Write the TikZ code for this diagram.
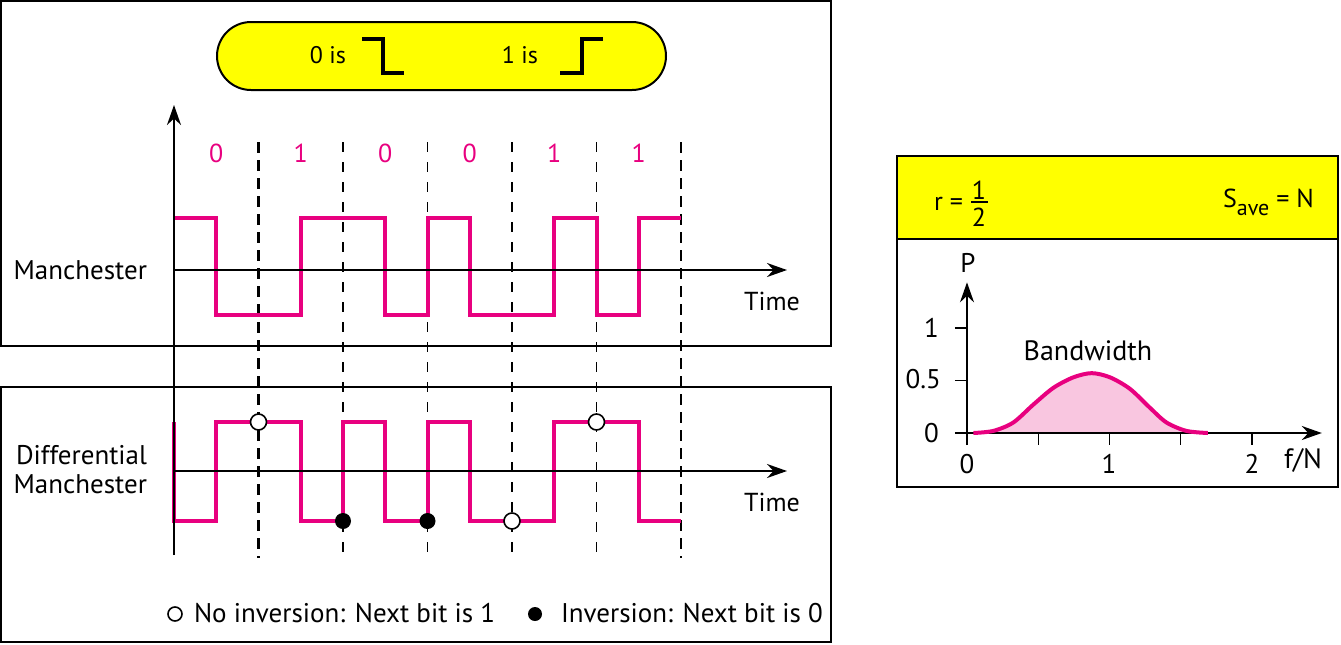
\documentclass[tikz,border=0pt]{standalone}
\usepackage{fontspec}
\setmainfont{PT Sans}
\usetikzlibrary{arrows.meta,positioning,calc}
\definecolor{senalc}{HTML}{E8007F}
\definecolor{amarillo}{HTML}{FFFF00}
\definecolor{rosa}{HTML}{F9C6E0}

\begin{document}
\begin{tikzpicture}[
  x=0.5pt, y=-0.5pt,
  caja/.style={draw, line width=1pt},
  senal/.style={draw=senalc, line width=2pt},
  eje/.style={-{Stealth[length=10pt, width=7pt]}, line width=1pt},
  reloj/.style={dash pattern=on 5pt off 5pt, line width=0.8pt},
  relojg/.style={dash pattern=on 5.5pt off 3.5pt, line width=1.4pt},
  bit/.style={text=senalc, font=\fontsize{13}{15}\selectfont, anchor=base},
  etiq/.style={font=\fontsize{13.5}{16}\selectfont},
  blanco/.style={circle, draw, fill=white, line width=0.8pt, inner sep=0pt, minimum size=8pt},
  negro/.style={circle, fill=black, inner sep=0pt, minimum size=8pt}
]
\useasboundingbox (0,0) rectangle (1341,644);
\def\bw{84.5}

% marcos
\draw[caja] (1,1) rectangle (831,346);
\draw[caja] (1,387) rectangle (831,642);
\fill[amarillo] (897,156) rectangle (1338,239);
\draw[caja] (897,156) rectangle (1338,487);
\draw[caja] (897,239) -- (1338,239);

% leyenda de arriba
\draw[caja, fill=amarillo, rounded corners=17pt] (217,22) rectangle (666,90);
\node[anchor=base, font=\fontsize{12}{14}\selectfont] (cero) at (328,63) {0 is};
\node[anchor=base, font=\fontsize{12}{14}\selectfont] (uno) at (520,63) {1 is};
\draw[line width=2pt] (362,39) -| (383,73) -- (404,73);
\draw[line width=2pt] (560,73) -| (582,39) -- (603,39);

% lineas de reloj
\foreach \i in {2,...,5}
  \draw[reloj] ({174+\bw*\i},142) -- ({174+\bw*\i},558);
\foreach \i in {1,6}
  \draw[relojg] ({174+\bw*\i},142) -- ({174+\bw*\i},558);

% bits
\foreach \b [count=\i] in {0,1,0,0,1,1}
  \node[bit] (b\i) at ({174+\bw*(\i-0.5)},162) {\b};

% Manchester
\draw[senal] (174,218) -- (216,218) -- (216,315) -- (300.5,315) -- (300.5,218)
  -- (385,218) -- (385,315) -- (427.5,315) -- (427.5,218) -- (470,218) -- (470,315)
  -- (554,315) -- (554,218) -- (596.5,218) -- (596.5,315) -- (638.5,315)
  -- (638.5,218) -- (681,218);

% Manchester diferencial
\draw[senal] (174,422) -- (174,521) -- (216,521) -- (216,422) -- (300.5,422)
  -- (300.5,521) -- (343,521) -- (343,422) -- (385,422) -- (385,521) -- (427.5,521)
  -- (427.5,422) -- (470,422) -- (470,521) -- (554,521) -- (554,422) -- (638.5,422)
  -- (638.5,521) -- (681,521);

% ejes
\draw[eje] (174,555) -- (174,105);
\draw[eje] (174,270) -- (787,270);
\draw[eje] (174,471) -- (787,471);
\node[anchor=base, font=\fontsize{13}{15}\selectfont] (t1) at (772,310) {Time};
\node[anchor=base, font=\fontsize{13}{15}\selectfont] (t2) at (772,511) {Time};
\node[etiq, anchor=base east] (man) at (154,279) {Manchester};
\node[etiq, anchor=base east] (dif) at (154,464) {Differential};
\node[etiq, anchor=base east] (dif2) at (154,493) {Manchester};

% marcas de inversion
\node[blanco] (n1) at (258.5,422) {};
\node[negro]  (i1) at (343,521) {};
\node[negro]  (i2) at (427.5,521) {};
\node[blanco] (n2) at (512,521) {};
\node[blanco] (n3) at (596.5,422) {};

% leyenda de abajo
\node[blanco, minimum size=7pt] (ley1) at (175,614) {};
\node[etiq, anchor=base west] (tley1) at (187,622) {No inversion: Next bit is 1};
\node[negro, minimum size=7pt] (ley2) at (535,614) {};
\node[etiq, anchor=base west] (tley2) at (554,622) {Inversion: Next bit is 0};

% cabecera del espectro
\node[anchor=base west, font=\fontsize{13}{15}\selectfont] (r) at (927,210) {r =};
\node[anchor=base, font=\fontsize{13}{15}\selectfont] (fnum) at (979,199) {1};
\node[anchor=base, font=\fontsize{13}{15}\selectfont] (fden) at (979,226) {2};
\draw[line width=0.8pt] (971,202) -- (988,202);
\node[anchor=base west, font=\fontsize{13}{15}\selectfont] (s) at (1216,207)
  {S\raisebox{-4pt}{\fontsize{11}{12}\selectfont ave} = N};

% espectro
\begin{scope}[shift={(967,433)}, x=71.25pt, y=52.5pt]
  \fill[rosa] plot[smooth] coordinates {(0.045,0) (0.185,0.02) (0.325,0.10) (0.465,0.27)
    (0.606,0.43) (0.746,0.53) (0.875,0.57) (1.004,0.53) (1.144,0.42) (1.284,0.24)
    (1.40,0.10) (1.54,0.02) (1.69,0)} -- cycle;
  \foreach \t in {0.5,1,1.5,2}
    \draw[line width=0.6pt] (\t,0) -- (\t,-0.115);
  \foreach \v in {0.5,1}
    \draw[line width=0.6pt] (-0.085,\v) -- (0,\v);
  \draw[eje] (-0.085,0) -- (2.49,0);
  \draw[eje] (0,-0.115) -- (0,1.435);
  \draw[senal] plot[smooth] coordinates {(0.045,0) (0.185,0.02) (0.325,0.10) (0.465,0.27)
    (0.606,0.43) (0.746,0.53) (0.875,0.57) (1.004,0.53) (1.144,0.42) (1.284,0.24)
    (1.40,0.10) (1.54,0.02) (1.69,0)};
\end{scope}
\node[etiq, anchor=base] (p) at (968,272) {P};
\node[etiq, anchor=base east] (y1) at (946,337) {1};
\node[etiq, anchor=base east] (y05) at (948,388) {0.5};
\node[etiq, anchor=base east] (y0) at (946,442) {0};
\node[etiq, anchor=base] (x0) at (967,473) {0};
\node[etiq, anchor=base] (x1) at (1109,473) {1};
\node[etiq, anchor=base] (x2) at (1252,473) {2};
\node[anchor=base, font=\fontsize{14}{16}\selectfont] (fn) at (1303,468) {f/N};
\node[anchor=base, font=\fontsize{14}{16}\selectfont] (bwd) at (1088,360) {Bandwidth};
\end{tikzpicture}
\end{document}
